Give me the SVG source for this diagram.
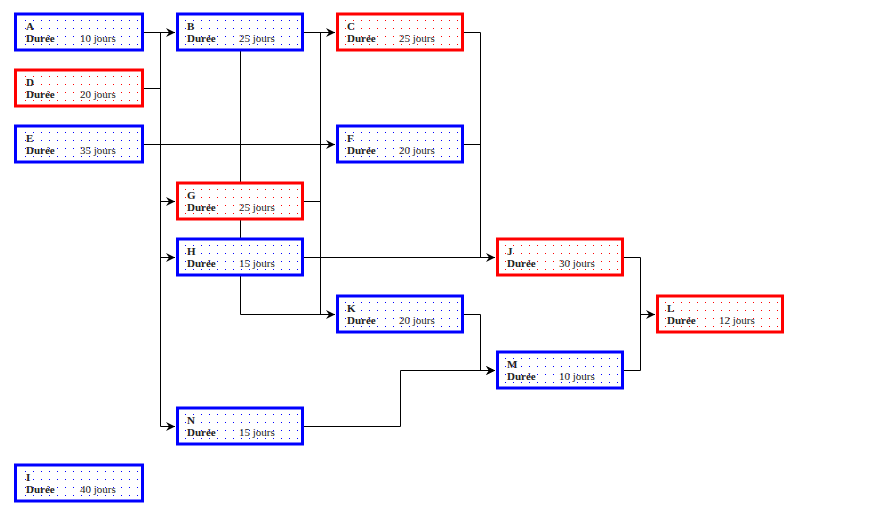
<svg xmlns="http://www.w3.org/2000/svg" xmlns:xlink="http://www.w3.org/1999/xlink" width="873" height="518" viewBox="0 0 873 518">
<style>
.box{fill:#fff;stroke-width:3}
.b{stroke:#0000ff}
.r{stroke:#ff0000}
.t{font-family:"Liberation Serif","Times New Roman",serif;font-size:11px;fill:#222}
.bd{font-weight:bold}
.c{fill:none;stroke:#000;stroke-width:1}
</style>
<defs>
<marker id="ar" markerUnits="userSpaceOnUse" markerWidth="12" markerHeight="12" viewBox="-10 -6 12 12" refX="0" refY="0" orient="auto">
<path d="M0,0 L-9,-4.5 L-6,0 L-9,4.5 Z" fill="#000"/>
</marker>
<pattern id="pB" patternUnits="userSpaceOnUse" x="0" y="6" width="8" height="8"><rect x="0" y="0" width="1" height="1" fill="#0000ff"/></pattern>
<pattern id="pR" patternUnits="userSpaceOnUse" x="0" y="6" width="8" height="8"><rect x="0" y="0" width="1" height="1" fill="#ff0000"/></pattern>
<rect id="dB" x="0" y="6" width="113" height="25" fill="url(#pB)"/>
<rect id="dR" x="0" y="6" width="113" height="25" fill="url(#pR)"/>
</defs>
<rect width="873" height="518" fill="#fff"/>
<g id="connectors">
<path class="c" d="M144,32.5 H175" marker-end="url(#ar)"/>
<path class="c" d="M160.5,32.5 V426.5"/>
<path class="c" d="M144,88.5 H160.5"/>
<path class="c" d="M144,144.5 H335" marker-end="url(#ar)"/>
<path class="c" d="M160.5,201.5 H175" marker-end="url(#ar)"/>
<path class="c" d="M160.5,257.5 H175" marker-end="url(#ar)"/>
<path class="c" d="M160.5,426.5 H175" marker-end="url(#ar)"/>
<path class="c" d="M304,32.5 H335" marker-end="url(#ar)"/>
<path class="c" d="M320.5,32.5 V314.5"/>
<path class="c" d="M240.5,50 V314.5 H335" marker-end="url(#ar)"/>
<path class="c" d="M304,201.5 H320.5"/>
<path class="c" d="M304,257.5 H495" marker-end="url(#ar)"/>
<path class="c" d="M464,32.5 H480.5 V257.5"/>
<path class="c" d="M464,144.5 H480.5"/>
<path class="c" d="M464,314.5 H480.5 V370.5 H495" marker-end="url(#ar)"/>
<path class="c" d="M304,426.5 H400.5 V370.5 H495" marker-end="url(#ar)"/>
<path class="c" d="M624,257.5 H640.5 V370.5 H624"/>
<path class="c" d="M640.5,314.5 H655" marker-end="url(#ar)"/>
</g>
<g id="A"><rect class="box b" x="15.5" y="14" width="127" height="36"/><use xlink:href="#dB" x="25" y="14"/><text class="t bd" x="26" y="30">A</text><text class="t" x="26" y="42"><tspan class="bd">Durée</tspan><tspan x="80">10 jours</tspan></text></g>
<g id="D"><rect class="box r" x="15.5" y="70" width="127" height="36"/><use xlink:href="#dR" x="25" y="70"/><text class="t bd" x="26" y="86">D</text><text class="t" x="26" y="98"><tspan class="bd">Durée</tspan><tspan x="80">20 jours</tspan></text></g>
<g id="E"><rect class="box b" x="15.5" y="126" width="127" height="36"/><use xlink:href="#dB" x="25" y="126"/><text class="t bd" x="26" y="142">E</text><text class="t" x="26" y="154"><tspan class="bd">Durée</tspan><tspan x="80">35 jours</tspan></text></g>
<g id="I"><rect class="box b" x="15.5" y="465" width="127" height="36"/><use xlink:href="#dB" x="25" y="465"/><text class="t bd" x="26" y="481">I</text><text class="t" x="26" y="493"><tspan class="bd">Durée</tspan><tspan x="80">40 jours</tspan></text></g>
<g id="B"><rect class="box b" x="177.5" y="14" width="125" height="36"/><use xlink:href="#dB" x="185" y="14"/><text class="t bd" x="187" y="30">B</text><text class="t" x="187" y="42"><tspan class="bd">Durée</tspan><tspan x="239">25 jours</tspan></text></g>
<g id="G"><rect class="box r" x="177.5" y="183" width="125" height="36"/><use xlink:href="#dR" x="185" y="183"/><text class="t bd" x="187" y="199">G</text><text class="t" x="187" y="211"><tspan class="bd">Durée</tspan><tspan x="239">25 jours</tspan></text></g>
<g id="H"><rect class="box b" x="177.5" y="239" width="125" height="36"/><use xlink:href="#dB" x="185" y="239"/><text class="t bd" x="187" y="255">H</text><text class="t" x="187" y="267"><tspan class="bd">Durée</tspan><tspan x="239">15 jours</tspan></text></g>
<g id="N"><rect class="box b" x="177.5" y="408" width="125" height="36"/><use xlink:href="#dB" x="185" y="408"/><text class="t bd" x="187" y="424">N</text><text class="t" x="187" y="436"><tspan class="bd">Durée</tspan><tspan x="239">15 jours</tspan></text></g>
<g id="C"><rect class="box r" x="337.5" y="14" width="125" height="36"/><use xlink:href="#dR" x="345" y="14"/><text class="t bd" x="347" y="30">C</text><text class="t" x="347" y="42"><tspan class="bd">Durée</tspan><tspan x="399">25 jours</tspan></text></g>
<g id="F"><rect class="box b" x="337.5" y="126" width="125" height="36"/><use xlink:href="#dB" x="345" y="126"/><text class="t bd" x="347" y="142">F</text><text class="t" x="347" y="154"><tspan class="bd">Durée</tspan><tspan x="399">20 jours</tspan></text></g>
<g id="K"><rect class="box b" x="337.5" y="296" width="125" height="36"/><use xlink:href="#dB" x="345" y="296"/><text class="t bd" x="347" y="312">K</text><text class="t" x="347" y="324"><tspan class="bd">Durée</tspan><tspan x="399">20 jours</tspan></text></g>
<g id="J"><rect class="box r" x="497.5" y="239" width="125" height="36"/><use xlink:href="#dR" x="505" y="239"/><text class="t bd" x="507" y="255">J</text><text class="t" x="507" y="267"><tspan class="bd">Durée</tspan><tspan x="559">30 jours</tspan></text></g>
<g id="M"><rect class="box b" x="497.5" y="352" width="125" height="36"/><use xlink:href="#dB" x="505" y="352"/><text class="t bd" x="507" y="368">M</text><text class="t" x="507" y="380"><tspan class="bd">Durée</tspan><tspan x="559">10 jours</tspan></text></g>
<g id="L"><rect class="box r" x="657.5" y="296" width="125" height="36"/><use xlink:href="#dR" x="665" y="296"/><text class="t bd" x="667" y="312">L</text><text class="t" x="667" y="324"><tspan class="bd">Durée</tspan><tspan x="719">12 jours</tspan></text></g>
</svg>
